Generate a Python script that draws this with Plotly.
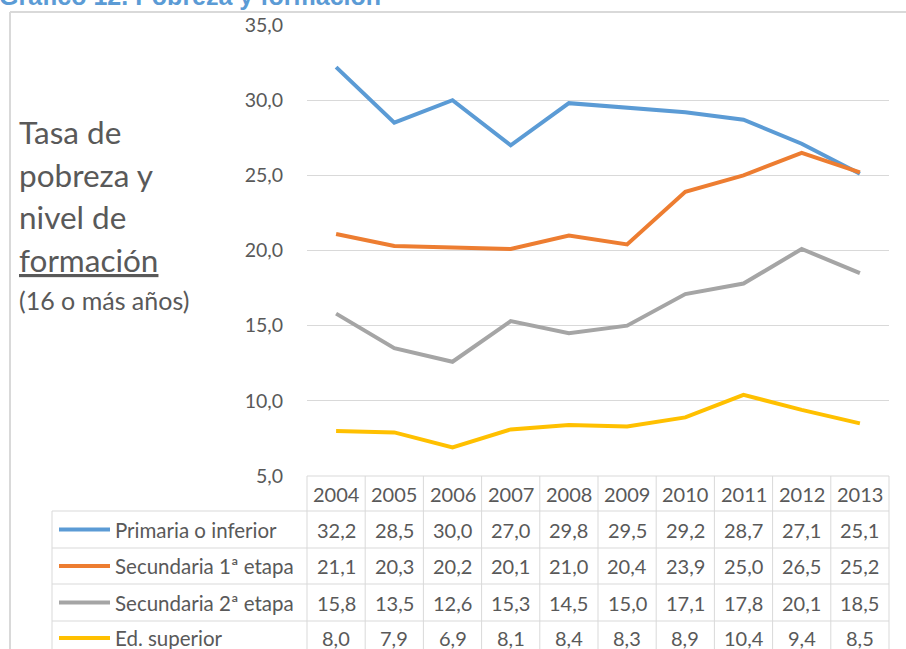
import plotly.graph_objects as go

years = ["2004", "2005", "2006", "2007", "2008", "2009", "2010", "2011", "2012", "2013"]
series_names = ["Primaria o inferior", "Secundaria 1ª etapa", "Secundaria 2ª etapa", "Ed. superior"]
primaria = [32.2, 28.5, 30.0, 27.0, 29.8, 29.5, 29.2, 28.7, 27.1, 25.1]
secundaria1 = [21.1, 20.3, 20.2, 20.1, 21.0, 20.4, 23.9, 25.0, 26.5, 25.2]
secundaria2 = [15.8, 13.5, 12.6, 15.3, 14.5, 15.0, 17.1, 17.8, 20.1, 18.5]
superior = [8.0, 7.9, 6.9, 8.1, 8.4, 8.3, 8.9, 10.4, 9.4, 8.5]
y_ticks = [5, 10, 15, 20, 25, 30, 35]

values = [primaria, secundaria1, secundaria2, superior]
colors = ["#5b9bd5", "#ed7d31", "#a5a5a5", "#ffc000"]

W, H = 906, 649
L, R, T, B = 307, 889, 25, 476  # plot area in pixels
FONT = "Lato, 'Open Sans', sans-serif"
TXT = "#595959"
GRID = "#d9d9d9"


def px(xp):
    return (xp - L) / (R - L)


def py(yp):
    return (B - yp) / (B - T)


fig = go.Figure()
for name, vals, c in zip(series_names, values, colors):
    fig.add_trace(go.Scatter(x=years, y=vals, mode="lines", name=name,
                             line=dict(color=c, width=4), showlegend=False,
                             hoverinfo="skip"))

shapes = []
annotations = []

# outer chart border (top & left)
shapes.append(dict(type="line", xref="paper", yref="paper", x0=px(10), x1=px(910),
                   y0=py(12), y1=py(12), line=dict(color=GRID, width=2)))
shapes.append(dict(type="line", xref="paper", yref="paper", x0=px(10), x1=px(10),
                   y0=py(12), y1=py(660), line=dict(color=GRID, width=2)))

# data table grid
row_bounds = [476, 511, 548, 584, 621, 658]
col_bounds = [307 + i * (889 - 307) / 10 for i in range(11)]
for k, yb in enumerate(row_bounds):
    x0 = px(307) if k == 0 else px(52)
    shapes.append(dict(type="line", xref="paper", yref="paper", x0=x0, x1=px(889),
                       y0=py(yb), y1=py(yb), line=dict(color=GRID, width=1)))
for cb in col_bounds:
    shapes.append(dict(type="line", xref="paper", yref="paper", x0=px(cb), x1=px(cb),
                       y0=py(476), y1=py(660), line=dict(color=GRID, width=1)))
shapes.append(dict(type="line", xref="paper", yref="paper", x0=px(52), x1=px(52),
                   y0=py(511), y1=py(660), line=dict(color=GRID, width=1)))

# header
for i, yr in enumerate(years):
    annotations.append(dict(x=i, y=py(494), xref="x", yref="paper", text=yr,
                            xanchor="center", yanchor="middle", showarrow=False,
                            font=dict(family=FONT, size=20, color=TXT)))

row_centers = [529.5, 566, 602.5, 638]
for r, (name, vals, c) in enumerate(zip(series_names, values, colors)):
    yc = row_centers[r]
    shapes.append(dict(type="line", xref="paper", yref="paper", x0=px(59), x1=px(110),
                       y0=py(yc), y1=py(yc), line=dict(color=c, width=4)))
    annotations.append(dict(x=px(113), y=py(yc), xref="paper", yref="paper", text=name,
                            xanchor="left", yanchor="middle", showarrow=False,
                            font=dict(family=FONT, size=20.5, color=TXT)))
    for i, v in enumerate(vals):
        annotations.append(dict(x=i, y=py(yc), xref="x", yref="paper",
                                text=f"{v:.1f}".replace(".", ","), showarrow=False,
                                xanchor="center", yanchor="middle",
                                font=dict(family=FONT, size=20, color=TXT)))

# left descriptive text
left_lines = [("Tasa de", 132, 31.5), ("pobreza y", 175, 31.5), ("nivel de", 217, 31.5),
              ("<u>formación</u>", 260, 31.5), ("(16 o más años)", 300, 25)]
for t, yc, fs in left_lines:
    annotations.append(dict(x=px(17), y=py(yc), xref="paper", yref="paper", text=t,
                            xanchor="left", yanchor="middle", showarrow=False,
                            font=dict(family=FONT, size=fs, color=TXT)))

# title (partially cut at top)
annotations.append(dict(x=px(-3), y=py(-4), xref="paper", yref="paper",
                        text="<b>Gráfico 12. Pobreza y formación</b>", xanchor="left",
                        yanchor="middle", showarrow=False,
                        font=dict(family="'Liberation Sans', Arial, sans-serif", size=25,
                                  color="#5b9bd5")))

fig.update_layout(
    width=W, height=H,
    margin=dict(l=L, r=W - R, t=T, b=H - B, pad=0),
    paper_bgcolor="white", plot_bgcolor="white",
    separators=",.",
    shapes=shapes, annotations=annotations,
    xaxis=dict(type="category", range=[-0.5, 9.5], showticklabels=False,
               showgrid=False, zeroline=False, showline=False, ticks=""),
    yaxis=dict(range=[5, 35], tickvals=y_ticks, tickformat=".1f", showgrid=True,
               gridcolor=GRID, gridwidth=1, zeroline=False, showline=False,
               ticks="outside", ticklen=19, tickcolor="rgba(0,0,0,0)",
               tickfont=dict(family=FONT, size=19.5, color=TXT)),
)

fig.write_html("out.html", config={"displayModeBar": False},
               post_script="document.body.style.margin='0px';")
